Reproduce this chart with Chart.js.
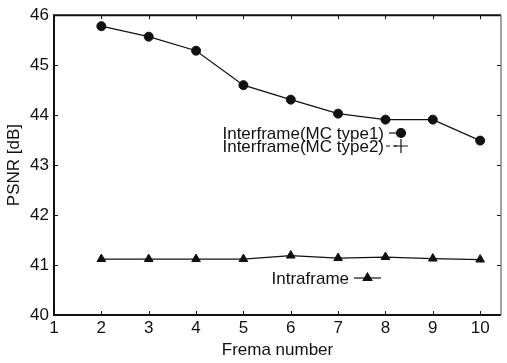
<!DOCTYPE html>
<html>
<head>
<meta charset="utf-8">
<script src="https://cdn.jsdelivr.net/npm/chart.js@4.4.1/dist/chart.umd.min.js"></script>
<style>
  html, body { margin: 0; padding: 0; background: #fff; }
  #wrap { width: 507px; height: 363px; }
</style>
</head>
<body>
<div id="wrap"><canvas id="grafico" width="507" height="363"></canvas></div>
<script>
// dados
var quadros = [2, 3, 4, 5, 6, 7, 8, 9, 10];
var interTipo1 = [45.78, 45.57, 45.29, 44.60, 44.31, 44.03, 43.91, 43.91, 43.49];
var interTipo2 = []; // aparece só na legenda
var intra = [41.12, 41.12, 41.12, 41.12, 41.19, 41.14, 41.16, 41.13, 41.11];
var ticksX = [1, 2, 3, 4, 5, 6, 7, 8, 9, 10];
var ticksY = [40, 41, 42, 43, 44, 45, 46];

var fonte = "'Liberation Sans', Arial, Helvetica, sans-serif";
var cor = "#111";

function pontos(xs, ys) {
  return ys.map(function (v, i) { return { x: xs[i], y: v }; });
}

// moldura e marcas de escala para dentro
var moldura = {
  id: "moldura",
  afterDraw: function (chart) {
    var c = chart.ctx, a = chart.chartArea;
    var sx = chart.scales.x, sy = chart.scales.y;
    c.save();
    c.strokeStyle = cor;
    c.lineWidth = 1;
    ticksX.forEach(function (v) {
      var px = Math.round(sx.getPixelForValue(v)) + 0.5;
      c.beginPath();
      c.moveTo(px, a.bottom); c.lineTo(px, a.bottom - 4);
      c.moveTo(px, a.top); c.lineTo(px, a.top + 4);
      c.stroke();
    });
    ticksY.forEach(function (v) {
      var py = Math.round(sy.getPixelForValue(v)) + 0.5;
      c.beginPath();
      c.moveTo(a.left, py); c.lineTo(a.left + 4, py);
      c.moveTo(a.right, py); c.lineTo(a.right - 4, py);
      c.stroke();
    });
    c.lineWidth = 2;
    c.beginPath();
    c.moveTo(a.right, a.top); c.lineTo(a.left, a.top);
    c.lineTo(a.left, a.bottom); c.lineTo(a.right, a.bottom);
    c.stroke();
    c.lineWidth = 1.2;
    c.strokeStyle = "#666";
    c.beginPath();
    c.moveTo(a.right, a.top); c.lineTo(a.right, a.bottom);
    c.stroke();
    c.restore();
  }
};

// legenda no estilo do gnuplot (texto à direita, amostra depois)
var legenda = {
  id: "legenda",
  afterDraw: function (chart) {
    var c = chart.ctx;
    var itens = [
      { ds: 0, texto: "Interframe(MC type1)", xt: 384, y: 133, l0: 389, l1: 400 },
      { ds: 1, texto: "Interframe(MC type2)", xt: 384, y: 146, l0: 386, l1: 400 },
      { ds: 2, texto: "Intraframe", xt: 349, y: 278, l0: 354, l1: 381 }
    ];
    c.save();
    c.font = "17px " + fonte;
    c.fillStyle = cor;
    c.textAlign = "right";
    c.textBaseline = "middle";
    itens.forEach(function (it) {
      var d = chart.data.datasets[it.ds];
      c.fillText(it.texto, it.xt, it.y + 1);
      c.strokeStyle = cor;
      c.lineWidth = 1.2;
      c.setLineDash(d.borderDash || []);
      c.beginPath();
      c.moveTo(it.l0, it.y); c.lineTo(it.l1, it.y);
      c.stroke();
      c.setLineDash([]);
      var mx = it.ds === 2 ? (it.l0 + it.l1) / 2 : 401;
      c.fillStyle = cor;
      Chart.helpers.drawPoint(c, {
        pointStyle: d.pointStyle,
        radius: d.ds2radius || d.pointRadius,
        borderWidth: d.ds === 1 ? 1.5 : 1,
        rotation: 0
      }, mx, it.y);
      c.fillStyle = cor;
    });
    c.restore();
  }
};

var ctx = document.getElementById("grafico").getContext("2d");
var grafico = new Chart(ctx, {
  type: "line",
  data: {
    datasets: [
      {
        label: "Interframe(MC type1)",
        data: pontos(quadros, interTipo1),
        borderColor: cor,
        backgroundColor: cor,
        borderWidth: 1.2,
        pointStyle: "circle",
        pointRadius: 4.5,
        pointBorderWidth: 1,
        tension: 0
      },
      {
        label: "Interframe(MC type2)",
        data: pontos(quadros, interTipo2),
        borderColor: cor,
        backgroundColor: cor,
        borderWidth: 1.2,
        borderDash: [4, 3],
        pointStyle: "cross",
        ds2radius: 7,
        pointRadius: 7,
        tension: 0
      },
      {
        label: "Intraframe",
        data: pontos(quadros, intra),
        borderColor: cor,
        backgroundColor: cor,
        borderWidth: 1.2,
        pointStyle: "triangle",
        pointRadius: 5,
        pointBorderWidth: 1,
        tension: 0
      }
    ]
  },
  options: {
    responsive: false,
    animation: false,
    layout: { padding: { left: 0, right: 2, top: 13, bottom: 0 } },
    plugins: {
      legend: { display: false },
      tooltip: { enabled: false }
    },
    scales: {
      x: {
        type: "linear",
        min: 1,
        max: 10.44,
        afterBuildTicks: function (s) {
          s.ticks = ticksX.map(function (v) { return { value: v }; });
        },
        afterFit: function (s) { s.height = 48; },
        grid: { display: false, drawTicks: false },
        border: { display: false },
        ticks: {
          color: cor,
          font: { family: fonte, size: 17 },
          padding: 3,
          maxRotation: 0,
          autoSkip: false
        },
        title: {
          display: true,
          text: "Frema number",
          color: cor,
          font: { family: fonte, size: 17 },
          padding: { top: 0, bottom: 2 }
        }
      },
      y: {
        type: "linear",
        min: 40,
        max: 46,
        afterBuildTicks: function (s) {
          s.ticks = ticksY.map(function (v) { return { value: v }; });
        },
        afterFit: function (s) { s.width = 54; },
        grid: { display: false, drawTicks: false },
        border: { display: false },
        ticks: {
          color: cor,
          font: { family: fonte, size: 17 },
          padding: 5
        },
        title: {
          display: true,
          text: "PSNR [dB]",
          color: cor,
          font: { family: fonte, size: 17 },
          padding: { top: 4, bottom: 0 }
        }
      }
    }
  },
  plugins: [moldura, legenda]
});
</script>
</body>
</html>
